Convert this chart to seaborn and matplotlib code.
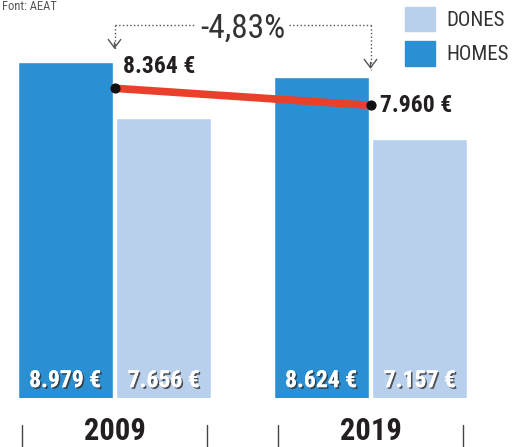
import pandas as pd
import seaborn as sns
import matplotlib.pyplot as plt
import matplotlib.patheffects as pe
from matplotlib.patches import Patch

# salari mitjà (€) per sexe, font AEAT
anys = ["2009", "2019"]
homes = [8979, 8624]
dones = [7656, 7157]
mitjana = [8364, 7960]
variacio = "-4,83%"

blau = "#2b90d3"
blau_clar = "#b9d0ec"
vermell = "#e8402a"

def euros(v):
    return f"{v:,}".replace(",", ".") + " €"

df = pd.DataFrame({
    "any": anys * 2,
    "sexe": ["HOMES"] * 2 + ["DONES"] * 2,
    "valor": homes + dones,
})

sns.set_style("white")
plt.rcParams["font.family"] = ["Roboto Condensed", "DejaVu Sans"]

fig = plt.figure(figsize=(5.16, 4.47), dpi=100)
ax = fig.add_axes([0, 49 / 447, 1, 398 / 447])

sns.barplot(data=df, x="any", y="valor", hue="sexe", hue_order=["HOMES", "DONES"],
            palette={"HOMES": blau, "DONES": blau_clar}, width=0.77, gap=0.04,
            saturation=1, legend=False, ax=ax)

ax.set_xlim(-114.5 / 256, (516 - 114.5) / 256)
ax.set_ylim(1042, 1042 + 398 * 23.64)
sns.despine(ax=ax, left=True, bottom=True)
ax.set_yticks([])
ax.set_xlabel("")
ax.set_ylabel("")
ax.tick_params(axis="x", length=0, pad=13)
for t in ax.get_xticklabels():
    t.set_fontsize(22)
    t.set_fontweight("bold")
    t.set_color("#231f20")

# etiquetes dins les barres
ombra = [pe.withSimplePatchShadow(offset=(1.2, -1.2), shadow_rgbFace="#333333", alpha=0.8), pe.Normal()]
for cont in ax.containers:
    for barra in cont:
        cx = barra.get_x() + barra.get_width() / 2
        ax.annotate(euros(int(round(barra.get_height()))), (cx, 0), xycoords=("data", "axes fraction"),
                    xytext=(0, 12.5), textcoords="offset points", ha="center", va="center",
                    fontsize=17, fontweight="bold", color="white", path_effects=ombra)

# marques inferiors
for i in range(len(anys)):
    for d in (-0.36, 0.36):
        ax.plot([i + d, i + d], [-0.068, -0.125], transform=ax.get_xaxis_transform(),
                color="#444444", lw=1, clip_on=False)

# línia de la mitjana
xs = list(range(len(anys)))
ax.plot(xs, mitjana, color=vermell, lw=5.5, solid_capstyle="butt", zorder=4)
ax.scatter(xs, mitjana, color="#111111", s=40, zorder=5)
ax.annotate(euros(mitjana[0]), (0, mitjana[0]), xytext=(6, 16), textcoords="offset points",
            ha="left", va="center", fontsize=17, fontweight="bold", color="#231f20")
ax.annotate(euros(mitjana[1]), (1, mitjana[1]), xytext=(7, 0), textcoords="offset points",
            ha="left", va="center", fontsize=17, fontweight="bold", color="#231f20")

# claudàtor de la variació
tr = ax.get_xaxis_transform()
gris = "#555555"
yb = 0.937
ax.plot([0, 0.32], [yb, yb], transform=tr, color=gris, lw=1, ls=":", clip_on=False)
ax.plot([0.68, 1], [yb, yb], transform=tr, color=gris, lw=1, ls=":", clip_on=False)
ax.plot([0, 0], [yb, 0.875], transform=tr, color=gris, lw=1, ls=":")
ax.plot([1, 1], [yb, 0.825], transform=tr, color=gris, lw=1, ls=":")
for x, ytip in ((0, 0.87), (1, 0.82)):
    ax.annotate("", xy=(x, ytip), xycoords=tr, xytext=(x, ytip + 0.03), textcoords=tr,
                arrowprops=dict(arrowstyle="->,head_length=0.6,head_width=0.45", color=gris, lw=1))
ax.text(0.5, 0.927, variacio, transform=tr, ha="center", va="center", fontsize=24, color="#333333")

# llegenda
fig.legend(handles=[Patch(color=blau_clar), Patch(color=blau)], labels=["DONES", "HOMES"],
           loc="upper left", bbox_to_anchor=(405 / 516, 1 - 7 / 447), frameon=False,
           fontsize=15, handlelength=1.45, handleheight=1.4, labelspacing=0.5,
           handletextpad=0.55, borderpad=0, borderaxespad=0, labelcolor="#333333")

fig.text(2 / 516, 1 - 6 / 447, "Font: AEAT", fontsize=9, color="#555555", ha="left", va="center")

fig.savefig("out.png", dpi=100)
